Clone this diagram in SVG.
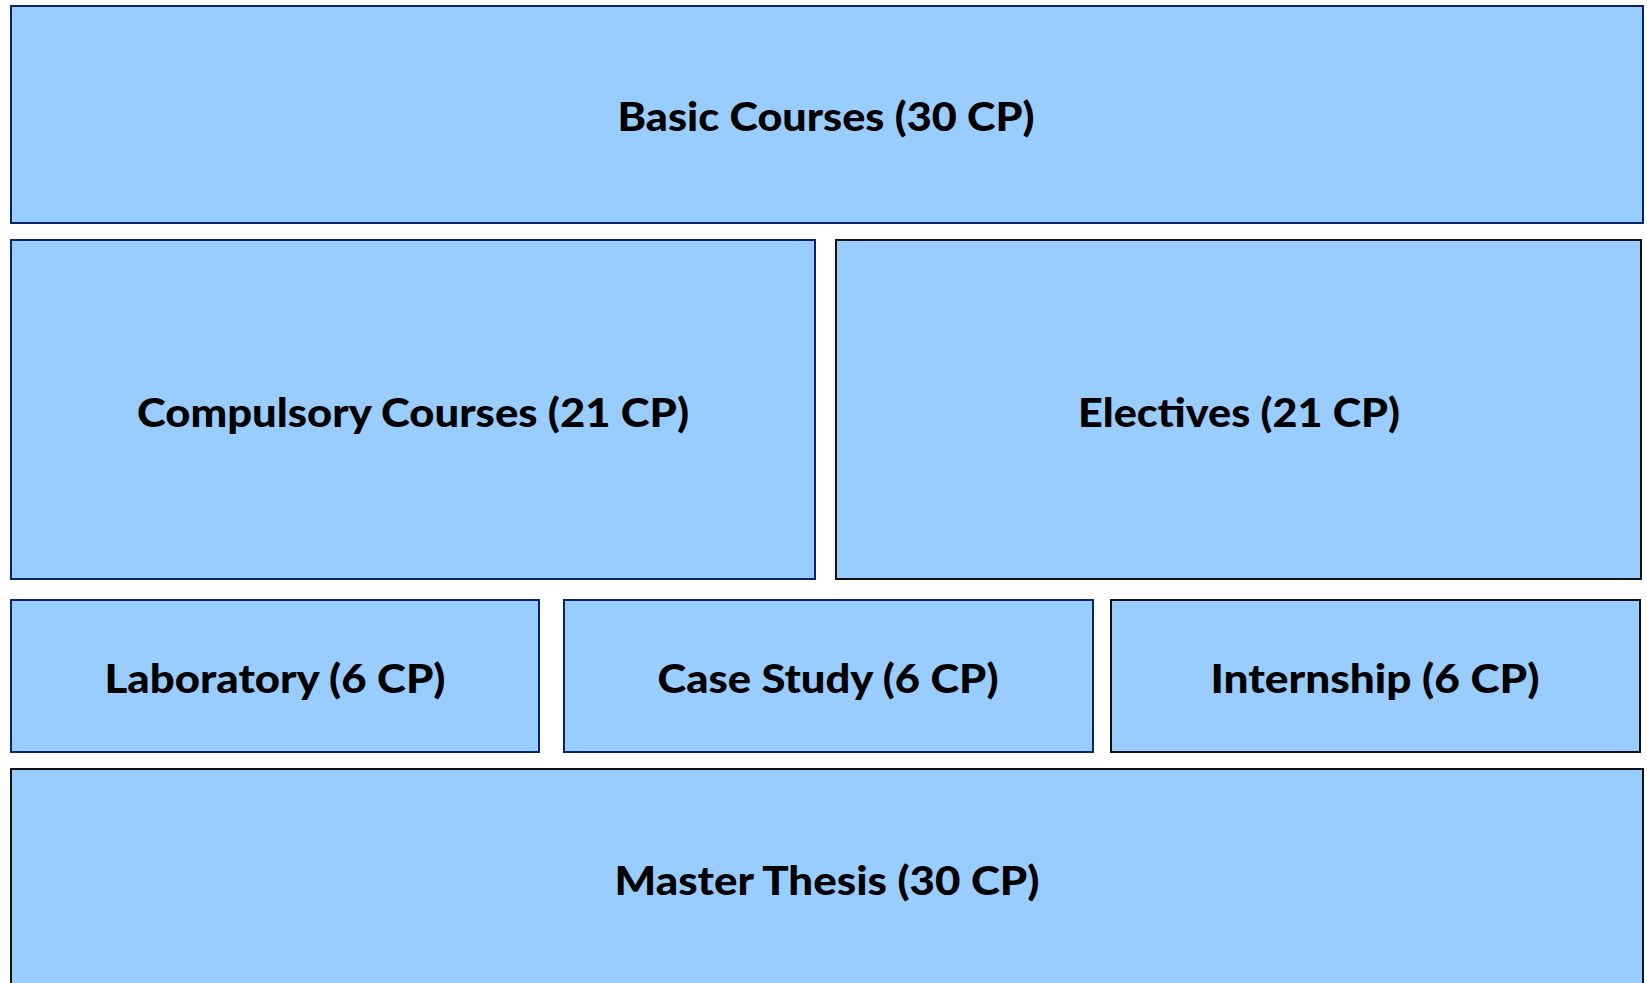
<svg xmlns="http://www.w3.org/2000/svg" width="1647" height="983" viewBox="0 0 1647 983">
<style>
.box{fill:#99CCFF;stroke-width:2}
.navy{stroke:#0A2466}
.blk{stroke:#111111}
.lbl{font-family:Lato,"Open Sans","Liberation Sans",sans-serif;font-weight:900;font-size:40px;fill:#000;text-anchor:middle}
</style>
<rect width="1647" height="983" fill="#ffffff"/>
<g id="connectors"></g>
<g id="basic"><rect class="box navy" x="11" y="6" width="1632" height="217" stroke-width="3"/><text class="lbl" x="826" y="131" textLength="417" lengthAdjust="spacingAndGlyphs">Basic Courses (30 CP)</text></g>
<g id="compulsory"><rect class="box navy" x="11" y="240" width="804" height="339"/><text class="lbl" x="413" y="427" textLength="552" lengthAdjust="spacingAndGlyphs">Compulsory Courses (21 CP)</text></g>
<g id="electives"><rect class="box blk" x="836" y="240" width="805" height="339"/><text class="lbl" x="1239" y="427" textLength="322" lengthAdjust="spacingAndGlyphs">Electives (21 CP)</text></g>
<g id="laboratory"><rect class="box navy" x="11" y="600" width="528" height="152"/><text class="lbl" x="275" y="693" textLength="341" lengthAdjust="spacingAndGlyphs">Laboratory (6 CP)</text></g>
<g id="casestudy"><rect class="box navy" x="564" y="600" width="529" height="152"/><text class="lbl" x="828" y="693" textLength="341" lengthAdjust="spacingAndGlyphs">Case Study (6 CP)</text></g>
<g id="internship"><rect class="box blk" x="1111" y="600" width="529" height="152"/><text class="lbl" x="1375" y="693" textLength="329" lengthAdjust="spacingAndGlyphs">Internship (6 CP)</text></g>
<g id="thesis"><rect class="box blk" x="11" y="769" width="1632" height="240"/><text class="lbl" x="827" y="895" textLength="425" lengthAdjust="spacingAndGlyphs">Master Thesis (30 CP)</text></g>
</svg>
